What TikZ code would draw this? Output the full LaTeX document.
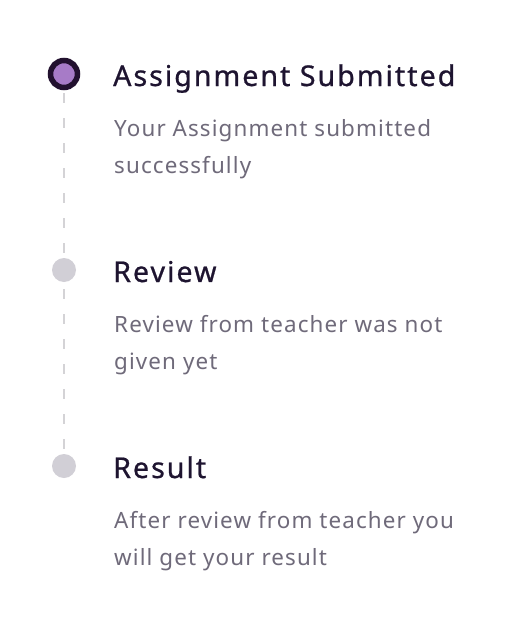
\documentclass[tikz,border=0pt]{standalone}
\usepackage{fontspec}
\setmainfont{Noto Sans}
\newfontfamily\titlefont[LetterSpace=7,FakeBold=0.8]{Noto Sans}
\newfontfamily\bodyfont[LetterSpace=5]{Noto Sans}
\definecolor{titlecol}{HTML}{1E1430}
\definecolor{bodycol}{HTML}{6F6A7A}
\definecolor{ringcol}{HTML}{22112F}
\definecolor{donefill}{HTML}{A77BC7}
\definecolor{pendcol}{HTML}{D1CFD6}
\definecolor{dashcol}{HTML}{D4D3D6}
\tikzset{
  donedot/.style={circle, draw=ringcol, line width=5.5pt, fill=donefill, minimum size=27pt, inner sep=0pt, outer sep=0pt},
  penddot/.style={circle, fill=pendcol, minimum size=24pt, inner sep=0pt, outer sep=0pt},
  titletext/.style={anchor=base west, inner sep=0pt, text=titlecol, font=\titlefont\fontsize{28.6}{34}\selectfont},
  bodytext/.style={anchor=base west, inner sep=0pt, text=bodycol, align=left, font=\bodyfont\fontsize{22.4}{37}\selectfont},
  dashline/.style={draw=dashcol, line width=2pt, dash pattern=on 10pt off 15pt}
}
\begin{document}
\begin{tikzpicture}[x=1pt,y=-1pt]
\useasboundingbox[fill=white] (0,0) rectangle (510,624);
\node[donedot] (c1) at (64,74) {};
\node[penddot] (c2) at (64,270) {};
\node[penddot] (c3) at (64,466) {};
\draw[dashline] ([yshift=-19pt]c1.center) -- ([yshift=17pt]c2.center);
\draw[dashline] ([yshift=-19pt]c2.center) -- ([yshift=17pt]c3.center);
\node[titletext] (t1) at (113,86) {Assignment Submitted};
\node[bodytext] (b1) at (114,173) {Your Assignment submitted\\successfully};
\node[titletext] (t2) at (113,282) {Review};
\node[bodytext] (b2) at (114,369) {Review from teacher was not\\given yet};
\node[titletext] (t3) at (113,478) {Result};
\node[bodytext] (b3) at (114,565) {After review from teacher you\\will get your result};
\end{tikzpicture}
\end{document}
